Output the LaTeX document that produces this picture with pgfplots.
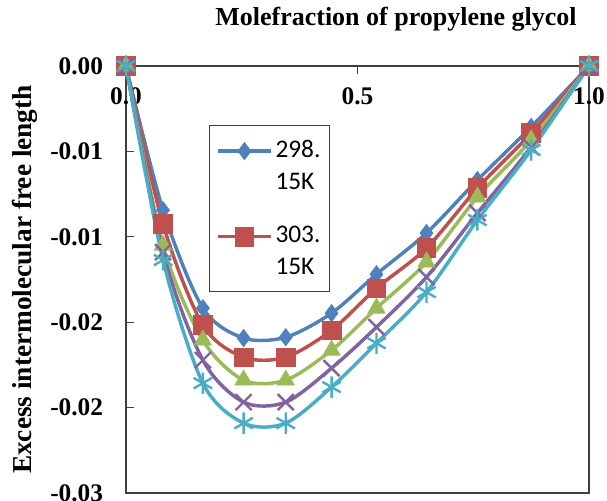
\documentclass[border=0pt]{standalone}
\usepackage{fontspec}
\setmainfont{Liberation Serif}
\newfontfamily\legfont{Carlito}
\usepackage{pgfplots}
\pgfplotsset{compat=1.18}
\definecolor{sA}{HTML}{4F81BD}
\definecolor{sB}{HTML}{C0504D}
\definecolor{sC}{HTML}{9BBB59}
\definecolor{sD}{HTML}{8064A2}
\definecolor{sE}{HTML}{4BACC6}
\definecolor{axgray}{HTML}{404040}

\begin{document}
\begin{tikzpicture}
\begin{axis}[
name=ax,scale only axis,width=347.25pt,height=320.25pt,
xmin=0,xmax=1,ymin=-0.025,ymax=0,clip=false,
scaled y ticks=false,scaled x ticks=false,
axis line style={axgray,line width=0.9pt},
xtick={0,0.5,1},xticklabels={0.0,0.5,1.0},xtick pos=upper,xticklabel pos=upper,
ytick={-0.025,-0.02,-0.015,-0.01,-0.005,0},
yticklabels={-0.03,-0.02,-0.02,-0.01,-0.01,0.00},ytick pos=lower,
tick align=inside,major tick length=6pt,tick style={axgray,line width=0.9pt},
tick label style={font=\bfseries\fontsize{19}{19}\selectfont},
xticklabel style={anchor=north,inner sep=0pt,yshift=-16pt},
yticklabel style={anchor=east,inner sep=0pt,xshift=-17pt},
ylabel={Excess intermolecular free length},
ylabel style={at={(axis description cs:-0.218,0.5)},anchor=center,font=\bfseries\fontsize{20.5}{20.5}\selectfont},
title={Molefraction of propylene glycol},
title style={at={(axis description cs:0.583,1)},anchor=center,yshift=29pt,font=\bfseries\fontsize{19.5}{19.5}\selectfont},
legend style={at={(axis description cs:0.179,0.862)},anchor=north west,draw=axgray,line width=0.8pt,
  font=\legfont\fontsize{19}{24}\selectfont,cells={align=left},row sep=22pt,inner xsep=5pt,inner ysep=9pt},
legend image code/.code={\draw[yshift=11pt,mark repeat=2,mark phase=2] plot coordinates {(0pt,0pt) (20pt,0pt) (40pt,0pt)};},
legend cell align=left]
\addplot[color=sA,line width=2.6pt,smooth,mark=diamond*,mark size=6.5pt,mark options={line width=0.5pt}]
coordinates {(0,0) (0.080,-0.00844) (0.166,-0.01418) (0.254,-0.01593) (0.345,-0.01588) (0.444,-0.01447) (0.541,-0.01219) (0.649,-0.00978) (0.759,-0.00668) (0.875,-0.00357) (1,0)};
\addlegendentry{298.\\15K}
\addplot[color=sB,line width=2.6pt,smooth,mark=square*,mark size=7pt,mark options={line width=0.5pt}]
coordinates {(0,0) (0.080,-0.00926) (0.166,-0.01517) (0.254,-0.01705) (0.345,-0.01705) (0.444,-0.01547) (0.541,-0.01301) (0.649,-0.01066) (0.759,-0.00715) (0.875,-0.00393) (1,0)};
\addlegendentry{303.\\15K}
\addplot[forget plot,color=sC,line width=2.6pt,smooth,mark=triangle*,mark size=7.5pt,mark options={line width=0.5pt}]
coordinates {(0,0) (0.080,-0.01049) (0.166,-0.01605) (0.254,-0.01839) (0.345,-0.01839) (0.444,-0.01664) (0.541,-0.01418) (0.649,-0.01148) (0.759,-0.00767) (0.875,-0.00434) (1,0)};
\addplot[forget plot,color=sD,line width=2.6pt,smooth,mark=x,mark size=8.5pt,mark options={line width=1.8pt}]
coordinates {(0,0) (0.080,-0.01090) (0.166,-0.01722) (0.254,-0.01968) (0.345,-0.01968) (0.444,-0.01769) (0.541,-0.01529) (0.649,-0.01236) (0.759,-0.00861) (0.875,-0.00475) (1,0)};
\addplot[forget plot,color=sE,line width=2.6pt,smooth,mark=asterisk,mark size=8pt,mark options={line width=1.8pt}]
coordinates {(0,0) (0.080,-0.01136) (0.166,-0.01857) (0.254,-0.02091) (0.345,-0.02091) (0.444,-0.01880) (0.541,-0.01623) (0.649,-0.01324) (0.759,-0.00902) (0.875,-0.00492) (1,0)};
\end{axis}
\pgfresetboundingbox
\path ([shift={(-94.5pt,-5.25pt)}]ax.south west) rectangle ([shift={(13.5pt,49.5pt)}]ax.north east);
\end{tikzpicture}
\end{document}
